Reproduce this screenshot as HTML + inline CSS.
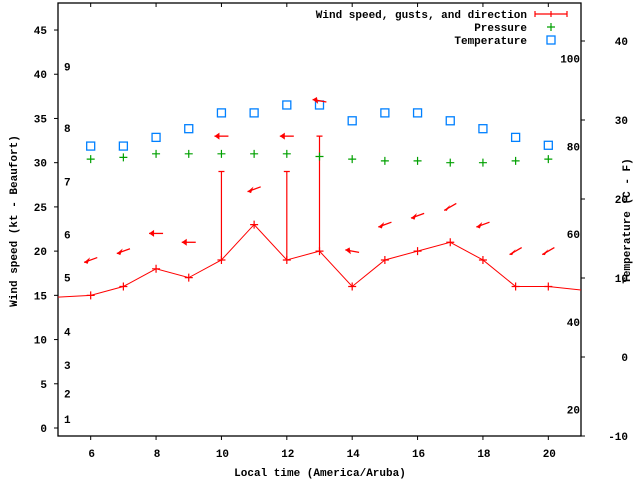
<!DOCTYPE html>
<html><head><meta charset="utf-8"><style>
html,body{margin:0;padding:0;background:#fff;}
svg{display:block;}
text{font-family:"Liberation Mono","DejaVu Sans Mono",monospace;font-weight:bold;font-size:11px;fill:#000;}
</style></head><body>
<svg id="chart" width="640" height="480" viewBox="0 0 640 480" xmlns="http://www.w3.org/2000/svg">
<defs><clipPath id="clip"><rect x="58" y="3" width="523" height="433"/></clipPath></defs>
<g id="axes"></g>
<g id="marks" clip-path="url(#clip)"></g>
<g id="legend"></g>
</svg>
<script>
const hours=[6,7,8,9,10,11,12,13,14,15,16,17,18,19,20];
const lineHours=[5,6,7,8,9,10,11,12,13,14,15,16,17,18,19,20,21];
const speeds=[14.8,15,16,18,17,19,23,19,20,16,19,20,21,19,16,16,15.6];
const gustHours=[10,12,13];
const gusts=[29,29,33];
const pressure=[30.4,30.6,31,31,31,31,31,30.7,30.4,30.2,30.2,30.0,30.0,30.2,30.4];
const tempC=[26.7,26.7,27.8,28.9,30.9,30.9,31.9,31.9,29.9,30.9,30.9,29.9,28.9,27.8,26.8];
const arrowLevel=[19,20,22,21,33,27,33,37,20,23,24,25,23,20,20];
const windDir=[70,70,90,90,90,70,90,100,100,70,70,60,70,60,60];
const xTicks=[6,8,10,12,14,16,18,20];
const yTicks=[0,5,10,15,20,25,30,35,40,45];
const cTicks=[-10,0,10,20,30,40];
const fTicks=[20,40,60,80,100];
const beaufortLabels=["1","2","3","4","5","6","7","8","9"];
const beaufortKt=[1,3.9,7.1,10.9,17,21.9,27.9,33.9,40.9];

const L=58,R=581,T=3,B=436;
const X=h=>L+(h-5)*(R-L)/16;
const Y=v=>428-v*8.844;
const YC=c=>436-(c+10)*7.9;
const YF=f=>YC((f-32)*5/9);
const NS="http://www.w3.org/2000/svg";
function mk(parent,tag,attrs){const e=document.createElementNS(NS,tag);for(const k in attrs)e.setAttribute(k,attrs[k]);parent.appendChild(e);return e;}
const axes=document.getElementById('axes'),marks=document.getElementById('marks'),legend=document.getElementById('legend');

let e=mk(axes,'rect',{x:L,y:T,width:R-L,height:B-T,fill:'none',stroke:'#000','stroke-width':1.3});


xTicks.forEach(h=>{
  let t=mk(axes,'line',{x1:X(h),x2:X(h),y1:B,y2:B+4,stroke:'#000'});
  
  
  t=mk(axes,'line',{x1:X(h),x2:X(h),y1:T,y2:T+4,stroke:'#000'});
  
  
  let tx=mk(axes,'text',{x:X(h)+1,y:457,'text-anchor':'middle'});tx.textContent=h;
  
  
});
yTicks.forEach(v=>{
  let t=mk(axes,'line',{x1:L-4,x2:L,y1:Y(v),y2:Y(v),stroke:'#000'});
  
  
  let tx=mk(axes,'text',{x:47,y:Y(v)+4,'text-anchor':'end'});tx.textContent=v;
  
  
});
cTicks.forEach(v=>{
  let t=mk(axes,'line',{x1:R,x2:R+4,y1:YC(v),y2:YC(v),stroke:'#000'});
  
  
  let tx=mk(axes,'text',{x:628,y:YC(v)+4,'text-anchor':'end'});tx.textContent=v;
  
  
});
fTicks.forEach(v=>{
  let tx=mk(axes,'text',{x:580,y:YF(v)+4,'text-anchor':'end'});tx.textContent=v;
  
  
});
beaufortLabels.forEach((b,i)=>{
  let tx=mk(axes,'text',{x:64,y:Y(beaufortKt[i])+4});tx.textContent=b;
  
  
});
let tt=mk(axes,'text',{x:320,y:476,'text-anchor':'middle'});tt.textContent='Local time (America/Aruba)';


tt=mk(axes,'text',{x:0,y:0,'text-anchor':'middle',transform:'translate(17,221) rotate(-90)'});tt.textContent='Wind speed (kt - Beaufort)';


tt=mk(axes,'text',{x:0,y:0,'text-anchor':'middle',transform:'translate(630,221) rotate(-90)'});tt.textContent='Temperature (C - F)';



function plus(parent,x,y,c,name){
  const g=mk(parent,'path',{d:`M${x-4},${y}H${x+4}M${x},${y-4}V${y+4}`,stroke:c,'stroke-width':1.2,fill:'none'});
  
  
}
function square(parent,x,y,name){
  const s=mk(parent,'rect',{x:x-4,y:y-4,width:8,height:8,fill:'none',stroke:'#0080ff','stroke-width':1.3});
  
  
}
// wind speed line
let ln=mk(marks,'polyline',{points:lineHours.map((h,i)=>X(h)+','+Y(speeds[i])).join(' '),fill:'none',stroke:'#f00','stroke-width':1});


lineHours.forEach((h,i)=>{if(hours.includes(h))plus(marks,X(h),Y(speeds[i]),'#f00','wind-speed-point');});
gustHours.forEach((h,i)=>{
  const si=lineHours.indexOf(h);
  const g=mk(marks,'path',{d:`M${X(h)},${Y(speeds[si])}V${Y(gusts[i])}M${X(h)-3},${Y(gusts[i])}H${X(h)+3}`,stroke:'#f00','stroke-width':1.2,fill:'none'});
  
  
});
hours.forEach((h,i)=>plus(marks,X(h),Y(pressure[i]),'#00a000','pressure-point'));
hours.forEach((h,i)=>square(marks,X(h),YC(tempC[i]),'temperature-point'));
// direction arrows: point downwind
hours.forEach((h,i)=>{
  const a=(windDir[i]-90)*Math.PI/180; // tilt
  const cx=X(h),cy=Y(arrowLevel[i]);
  const dx=Math.cos(a),dy=-Math.sin(a);
  const hx=cx-7*dx,hy=cy+7*dy,tx=cx+7*dx,ty=cy-7*dy;
  const px=-dy,py=dx;
  const g=mk(marks,'g',{});
  
  
  mk(g,'line',{x1:hx,y1:hy,x2:tx,y2:ty,stroke:'#f00','stroke-width':1.3});
  const bx=hx+5*dx,by=hy-5*dy;
  mk(g,'polygon',{points:`${hx},${hy} ${bx+3.5*px},${by+3.5*py} ${bx-3.5*px},${by-3.5*py}`,fill:'#f00'});
});
// legend
const lg=[['Wind speed, gusts, and direction',14],['Pressure',27],['Temperature',40]];
lg.forEach(([s,y])=>{let t=mk(legend,'text',{x:527,y:y+4,'text-anchor':'end'});t.textContent=s;
  
  });
let lb=mk(legend,'path',{d:'M535,14H567M535,11V17M567,11V17M551,11V17',stroke:'#f00','stroke-width':1.2,fill:'none'});


plus(legend,551,27,'#00a000','legend-pressure-sample');
square(legend,551,40,'legend-temperature-sample');
</script>
</body></html>
